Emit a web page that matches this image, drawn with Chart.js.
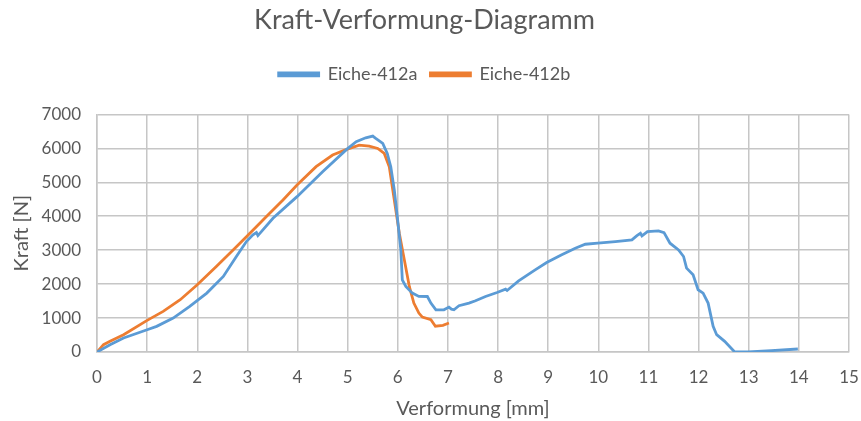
<!DOCTYPE html>
<html>
<head>
<meta charset="utf-8">
<script src="https://cdn.jsdelivr.net/npm/chart.js@4"></script>
<style>
  html, body { margin: 0; padding: 0; background: #fff; }
  #wrap { width: 861px; height: 421px; }
</style>
</head>
<body>
<div id="wrap"><canvas id="chart" width="861" height="421"></canvas></div>
<script>
// Eiche-412a (Verformung [mm] / Kraft [N])
const blueX = [0, 0.26, 0.53, 1.0, 1.19, 1.52, 1.85, 2.19, 2.52, 2.78, 2.98, 3.11, 3.18, 3.21, 3.51, 3.99, 4.5, 4.98, 5.17, 5.36, 5.5, 5.56, 5.7, 5.79, 5.86, 5.93, 5.99, 6.06, 6.09, 6.16, 6.29, 6.42, 6.59, 6.66, 6.76, 6.92, 7.02, 7.07, 7.12, 7.22, 7.42, 7.55, 7.75, 7.98, 8.15, 8.18, 8.41, 8.74, 8.97, 9.27, 9.54, 9.74, 9.99, 10.34, 10.67, 10.77, 10.84, 10.87, 10.98, 11.2, 11.31, 11.43, 11.6, 11.7, 11.76, 11.89, 11.99, 12.09, 12.19, 12.29, 12.36, 12.52, 12.72, 12.99, 13.45, 13.98];
const blueY = [0, 216, 412, 657, 755, 1000, 1343, 1735, 2225, 2813, 3255, 3451, 3520, 3430, 3940, 4577, 5312, 5968, 6194, 6311, 6360, 6292, 6145, 5850, 5459, 4773, 3989, 3009, 2127, 1931, 1735, 1637, 1635, 1441, 1244, 1244, 1323, 1264, 1245, 1362, 1441, 1509, 1637, 1754, 1852, 1813, 2097, 2420, 2636, 2862, 3058, 3175, 3205, 3254, 3303, 3430, 3499, 3420, 3548, 3567, 3518, 3205, 3009, 2813, 2470, 2274, 1833, 1735, 1441, 755, 510, 314, 0, 0, 39, 88];

// Eiche-412b
const orangeX = [0, 0.13, 0.26, 0.53, 1.0, 1.32, 1.66, 2.0, 2.38, 2.72, 3.05, 3.38, 3.71, 3.99, 4.37, 4.7, 4.98, 5.23, 5.43, 5.6, 5.73, 5.83, 5.93, 6.03, 6.13, 6.23, 6.32, 6.42, 6.49, 6.66, 6.75, 6.9, 7.02];
const orangeY = [0, 216, 314, 510, 931, 1196, 1539, 1980, 2519, 3009, 3499, 3989, 4479, 4920, 5459, 5802, 5968, 6096, 6066, 5998, 5851, 5459, 4479, 3499, 2715, 1931, 1441, 1147, 1029, 951, 760, 784, 853];

const seriesNames = ['Eiche-412a', 'Eiche-412b'];
const seriesColors = ['#5b9bd5', '#ed7d31'];

function toPoints(xs, ys) {
  return xs.map((x, i) => ({ x: x, y: ys[i] }));
}

const txt = '#595959';
const gridCol = '#c6c6c6';
Chart.defaults.font.family = 'Lato, "Open Sans", sans-serif';

// extra room between legend and plot, like the Excel original
const legendGap = {
  id: 'legendGap',
  beforeInit(chart) {
    const fit = chart.legend.fit;
    chart.legend.fit = function () {
      fit.call(this);
      this.height += 21;
    };
  }
};

new Chart(document.getElementById('chart').getContext('2d'), {
  type: 'scatter',
  data: {
    datasets: [
      { label: seriesNames[0], data: toPoints(blueX, blueY), borderColor: seriesColors[0], backgroundColor: seriesColors[0], showLine: true, borderWidth: 2.8, pointRadius: 0, tension: 0 },
      { label: seriesNames[1], data: toPoints(orangeX, orangeY), borderColor: seriesColors[1], backgroundColor: seriesColors[1], showLine: true, borderWidth: 2.8, pointRadius: 0, tension: 0 }
    ]
  },
  options: {
    responsive: false,
    animation: false,
    layout: { padding: { left: 0, right: 12, top: 0, bottom: 0 } },
    plugins: {
      title: {
        display: true,
        text: 'Kraft-Verformung-Diagramm',
        color: txt,
        font: { size: 27, weight: 'normal' },
        padding: { top: 4, bottom: 16 }
      },
      legend: {
        display: true,
        position: 'top',
        labels: { color: txt, font: { size: 18 }, boxWidth: 40, boxHeight: 3, padding: 13 }
      },
      tooltip: { enabled: false }
    },
    scales: {
      x: {
        type: 'linear',
        min: 0, max: 15,
        ticks: { stepSize: 1, color: txt, font: { size: 17 }, padding: 15 },
        grid: { color: gridCol, lineWidth: 1.5, drawTicks: false },
        border: { color: gridCol, width: 1.5 },
        title: { display: true, text: 'Verformung [mm]', color: txt, font: { size: 20 }, padding: { top: 0, bottom: 0 } },
        afterFit: s => { s.height = 69; s.paddingRight = 0; s.paddingLeft = 0; }
      },
      y: {
        min: 0, max: 7000,
        ticks: { stepSize: 1000, color: txt, font: { size: 17 }, padding: 16, callback: v => String(v) },
        grid: { color: gridCol, lineWidth: 1.5, drawTicks: false },
        border: { color: gridCol, width: 1.5 },
        title: { display: true, text: 'Kraft [N]', color: txt, font: { size: 20 }, padding: { top: 10, bottom: 0 } },
        afterFit: s => { s.width = 97; }
      }
    }
  },
  plugins: [legendGap]
});
</script>
</body>
</html>
